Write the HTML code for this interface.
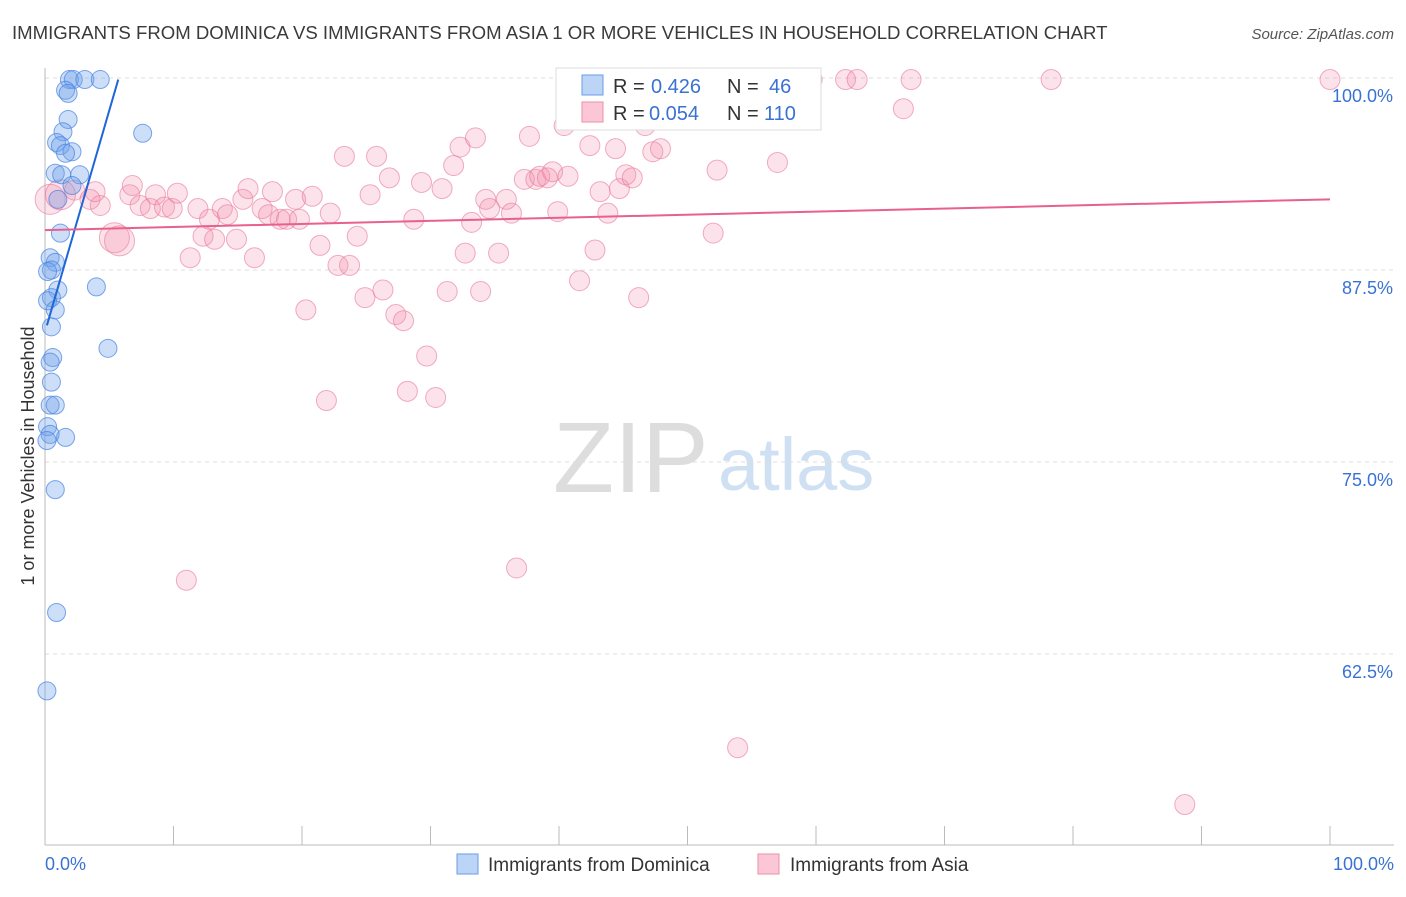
<!DOCTYPE html>
<html><head><meta charset="utf-8"><style>
body{margin:0;background:#fff;font-family:"Liberation Sans",sans-serif}
svg text{font-family:"Liberation Sans",sans-serif}
</style></head><body>
<svg id="chart" width="1406" height="892">
<text x="12" y="39" font-size="18.6" fill="#3a3a3a">IMMIGRANTS FROM DOMINICA VS IMMIGRANTS FROM ASIA 1 OR MORE VEHICLES IN HOUSEHOLD CORRELATION CHART</text>
<text x="1394" y="39" font-size="15" fill="#555" text-anchor="end" font-style="italic">Source: ZipAtlas.com</text>
<text x="553" y="492" font-size="100" fill="#ddd" font-family="Liberation Serif">ZIP</text>
<text x="718" y="490" font-size="74" fill="#cfe0f3">atlas</text>
<text transform="translate(34,456) rotate(-90)" font-size="18" fill="#333" text-anchor="middle">1 or more Vehicles in Household</text>
<g id="grid"></g><g id="pts"></g><g id="lines"></g>
<g>
<rect x="556" y="68" width="265" height="62" fill="#fff" stroke="#ddd"/>
<rect x="582" y="75" width="21" height="20" fill="#bcd4f5" stroke="#6a9de6"/>
<rect x="582" y="102" width="21" height="20" fill="#fbc7d6" stroke="#ec8fac"/>
<text x="613" y="93" font-size="20" fill="#333">R = </text><text x="651" y="93" font-size="20" fill="#3a72d4">0.426</text>
<text x="727" y="93" font-size="20" fill="#333">N = </text><text x="769" y="93" font-size="20" fill="#3a72d4">46</text>
<text x="613" y="120" font-size="20" fill="#333">R = </text><text x="649" y="120" font-size="20" fill="#3a72d4">0.054</text>
<text x="727" y="120" font-size="20" fill="#333">N = </text><text x="764" y="120" font-size="20" fill="#3a72d4">110</text>
</g>
<g>
<rect x="457" y="854" width="21" height="20" fill="#bcd4f5" stroke="#6a9de6"/>
<text x="488" y="871" font-size="19" fill="#333">Immigrants from Dominica</text>
<rect x="758" y="854" width="21" height="20" fill="#fbc7d6" stroke="#ec8fac"/>
<text x="790" y="871" font-size="19" fill="#333">Immigrants from Asia</text>
</g>
</svg>
<script>
const yTicks=[100,87.5,75,62.5];
const yTickLabels=["100.0%","87.5%","75.0%","62.5%"];
const xTickLabels=["0.0%","100.0%"];
const blueX=[1.9,2.2,3.1,4.3,1.6,1.8,7.6,1.8,1.4,0.9,1.2,2.1,1.6,0.8,1.3,2.7,2.1,1.0,1.2,0.4,0.8,0.5,0.2,4.0,1.0,0.5,0.2,0.8,0.5,4.9,0.6,0.4,0.5,0.4,0.8,0.2,0.4,0.15,1.6,0.8,0.9,0.15];
const blueY=[99.9,99.9,99.9,99.9,99.2,99.0,96.4,97.3,96.5,95.8,95.6,95.2,95.1,93.8,93.7,93.7,93.0,92.1,89.9,88.3,88.0,87.5,87.4,86.4,86.2,85.7,85.5,84.9,83.8,82.4,81.8,81.5,80.2,78.7,78.7,77.3,76.8,76.4,76.6,73.2,65.2,60.1];
const pinkX=[0.4,1.2,2.3,3.5,4.3,3.9,5.4,5.8,6.6,7.4,6.8,8.2,8.6,9.3,9.9,10.3,11.0,11.3,11.9,12.3,12.8,13.2,13.8,14.2,14.9,15.4,15.8,16.3,16.9,17.4,17.7,18.3,18.8,19.5,19.8,20.3,20.8,21.4,21.9,22.2,22.8,23.3,23.7,24.3,24.9,25.3,25.8,26.3,26.8,27.3,27.9,28.2,28.7,29.3,29.7,30.4,30.9,31.3,31.8,32.3,32.7,33.2,33.5,33.9,34.3,34.6,35.3,35.9,36.3,36.7,37.3,37.7,38.2,38.5,39.1,39.5,39.9,40.4,40.7,41.6,42.4,42.8,43.2,43.8,44.4,44.7,45.2,45.7,46.2,46.7,47.3,47.9,52.0,52.3,52.7,53.3,53.9,57.0,59.7,62.3,63.2,66.8,67.4,78.3,88.7,100];
const pinkY=[92.1,92.4,92.7,92.1,91.7,92.6,89.6,89.4,92.4,91.7,93.0,91.5,92.4,91.6,91.5,92.5,67.3,88.3,91.5,89.7,90.8,89.5,91.5,91.1,89.5,92.1,92.8,88.3,91.5,91.1,92.6,90.8,90.8,92.1,90.8,84.9,92.3,89.1,79.0,91.2,87.8,94.9,87.8,89.7,85.7,92.4,94.9,86.2,93.5,84.6,84.2,79.6,90.8,93.2,81.9,79.2,92.8,86.1,94.3,95.5,88.6,90.6,96.1,86.1,92.1,91.5,88.6,92.1,91.2,68.1,93.4,96.2,93.4,93.6,93.5,93.9,91.3,96.9,93.6,86.8,95.6,88.8,92.6,91.2,95.4,92.8,93.7,93.5,85.7,96.9,95.2,95.4,89.9,94.0,99.9,99.9,56.4,94.5,99.9,99.9,99.9,98.0,99.9,99.9,52.7,99.9];
const bigPink=[0,1,6,7];
const blueTrendX=[0.15,5.7],blueTrendY=[83.9,99.9];
const pinkTrendX=[0,100],pinkTrendY=[90.1,92.1];

const X=v=>45+v*12.85, Y=v=>78+(100-v)*15.36;
const NS="http://www.w3.org/2000/svg";
function mk(t,a,p){const e=document.createElementNS(NS,t);for(const k in a)e.setAttribute(k,a[k]);p.appendChild(e);return e;}
const grid=document.getElementById('grid'),pts=document.getElementById('pts'),lines=document.getElementById('lines');
yTicks.forEach((t,i)=>{
 const l=mk('line',{x1:45,x2:1394,y1:Y(t),y2:Y(t),stroke:'#ddd','stroke-dasharray':'4,4'},grid);
 
 
 const tx=mk('text',{x:1393,y:Y(t)+24,'font-size':18,fill:'#3a72d4','text-anchor':'end'},grid);tx.textContent=yTickLabels[i];
 
 
});
const ax=mk('line',{x1:45,x2:45,y1:68,y2:845,stroke:'#bbb'},grid);


const bx=mk('line',{x1:45,x2:1394,y1:845,y2:845,stroke:'#bbb'},grid);


for(let i=0;i<=10;i++){const t=mk('line',{x1:X(i*10),x2:X(i*10),y1:826,y2:845,stroke:'#bbb'},grid);
 
 }
[[0,'start',45],[1,'end',1394]].forEach(([i,a,x])=>{const t=mk('text',{x:x,y:870,'font-size':18,fill:'#3a72d4','text-anchor':a},grid);t.textContent=xTickLabels[i];
 
 });
pinkX.forEach((v,i)=>{const c=mk('circle',{cx:X(v),cy:Y(pinkY[i]),r:bigPink.includes(i)?15:10,fill:'rgba(242,140,172,0.25)',stroke:'rgba(232,120,155,0.6)'},pts);
 
 });
blueX.forEach((v,i)=>{const c=mk('circle',{cx:X(v),cy:Y(blueY[i]),r:9,fill:'rgba(110,160,235,0.35)',stroke:'rgba(70,130,225,0.7)'},pts);
 
 });
const bl=mk('line',{x1:X(blueTrendX[0]),y1:Y(blueTrendY[0]),x2:X(blueTrendX[1]),y2:Y(blueTrendY[1]),stroke:'#1f66d6','stroke-width':2},lines);


const pl=mk('line',{x1:X(pinkTrendX[0]),y1:Y(pinkTrendY[0]),x2:X(pinkTrendX[1]),y2:Y(pinkTrendY[1]),stroke:'#e8608e','stroke-width':2},lines);


</script>
</body></html>
